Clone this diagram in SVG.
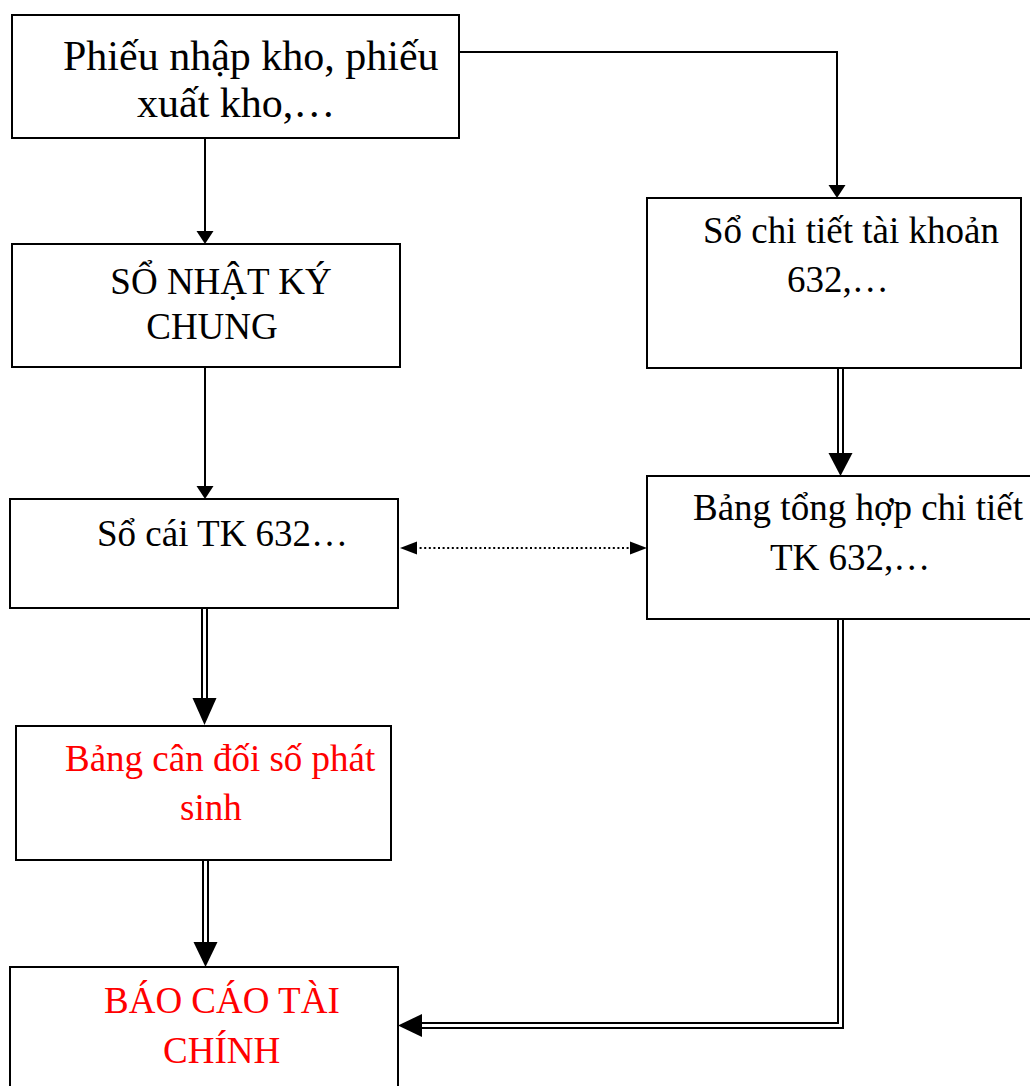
<svg xmlns="http://www.w3.org/2000/svg" width="1030" height="1086" viewBox="0 0 1030 1086">
  <style>
    .box { fill: #ffffff; stroke: #000000; stroke-width: 2; }
    .t { font-family: "Liberation Serif", "Times New Roman", serif; font-size: 37px; fill: #000000; }
    .big { font-size: 42px; }
    .red { fill: #ff0000; }
    .ln { fill: none; stroke: #000000; stroke-width: 2; }
    .dot { fill: none; stroke: #000000; stroke-width: 2; stroke-dasharray: 2 2.6; }
    .head { fill: #000000; stroke: none; }
  </style>
  <rect width="1030" height="1086" fill="#ffffff"/>

  <g id="connectors">
    <!-- phieu -> so nhat ky chung -->
    <line class="ln" x1="205" y1="138" x2="205" y2="233"/>
    <polygon class="head" points="196.5,231 213.5,231 205,244"/>
    <!-- phieu -> so chi tiet -->
    <path class="ln" d="M459,52 H837 V187"/>
    <polygon class="head" points="828.5,185 845.5,185 837,198"/>
    <!-- so nhat ky chung -> so cai -->
    <line class="ln" x1="205" y1="367" x2="205" y2="488"/>
    <polygon class="head" points="196.5,486 213.5,486 205,499"/>
    <!-- so chi tiet => bang tong hop (double) -->
    <line class="ln" x1="838" y1="368" x2="838" y2="455"/>
    <line class="ln" x1="843" y1="368" x2="843" y2="455"/>
    <polygon class="head" points="828.5,453 852.5,453 840.5,476"/>
    <!-- so cai <-> bang tong hop (dotted) -->
    <line class="dot" x1="415" y1="548" x2="632" y2="548"/>
    <polygon class="head" points="400,548 417,541.5 417,554.5"/>
    <polygon class="head" points="647,548 630,541.5 630,554.5"/>
    <!-- so cai => bang can doi (double) -->
    <line class="ln" x1="202" y1="608" x2="202" y2="700"/>
    <line class="ln" x1="207" y1="608" x2="207" y2="700"/>
    <polygon class="head" points="192.5,698 216.5,698 204.5,725"/>
    <!-- bang can doi => bao cao (double) -->
    <line class="ln" x1="203" y1="860" x2="203" y2="944"/>
    <line class="ln" x1="208" y1="860" x2="208" y2="944"/>
    <polygon class="head" points="193.5,942 217.5,942 205.5,967"/>
    <!-- bang tong hop => bao cao (double, elbow) -->
    <path class="ln" d="M838,619 V1023 H420"/>
    <path class="ln" d="M843,619 V1028 H420"/>
    <polygon class="head" points="398,1025.5 422,1014 422,1037"/>
  </g>

  <g id="phieu-nhap-xuat">
    <rect class="box" x="12" y="15" width="447" height="123"/>
    <text class="t big" x="63" y="70">Phiếu nhập kho, phiếu</text>
    <text class="t big" x="137" y="117">xuất kho,…</text>
  </g>

  <g id="so-nhat-ky-chung">
    <rect class="box" x="12" y="244" width="388" height="123"/>
    <text class="t" x="221" y="294" text-anchor="middle">SỔ NHẬT KÝ</text>
    <text class="t" x="212" y="339" text-anchor="middle">CHUNG</text>
  </g>

  <g id="so-chi-tiet">
    <rect class="box" x="647" y="198" width="374" height="170"/>
    <text class="t" x="703" y="243">Sổ chi tiết tài khoản</text>
    <text class="t" x="787" y="292">632,…</text>
  </g>

  <g id="so-cai">
    <rect class="box" x="10" y="499" width="388" height="109"/>
    <text class="t" x="97" y="546">Sổ cái TK 632…</text>
  </g>

  <g id="bang-tong-hop">
    <rect class="box" x="647" y="476" width="400" height="143"/>
    <text class="t" x="693" y="520">Bảng tổng hợp chi tiết</text>
    <text class="t" x="770" y="570">TK 632,…</text>
  </g>

  <g id="bang-can-doi">
    <rect class="box" x="16" y="726" width="375" height="134"/>
    <text class="t red" x="65" y="771">Bảng cân đối số phát</text>
    <text class="t red" x="180" y="820">sinh</text>
  </g>

  <g id="bao-cao-tai-chinh">
    <rect class="box" x="10" y="967" width="388" height="140"/>
    <text class="t red" x="104" y="1013">BÁO CÁO TÀI</text>
    <text class="t red" x="163" y="1063">CHÍNH</text>
  </g>
</svg>
